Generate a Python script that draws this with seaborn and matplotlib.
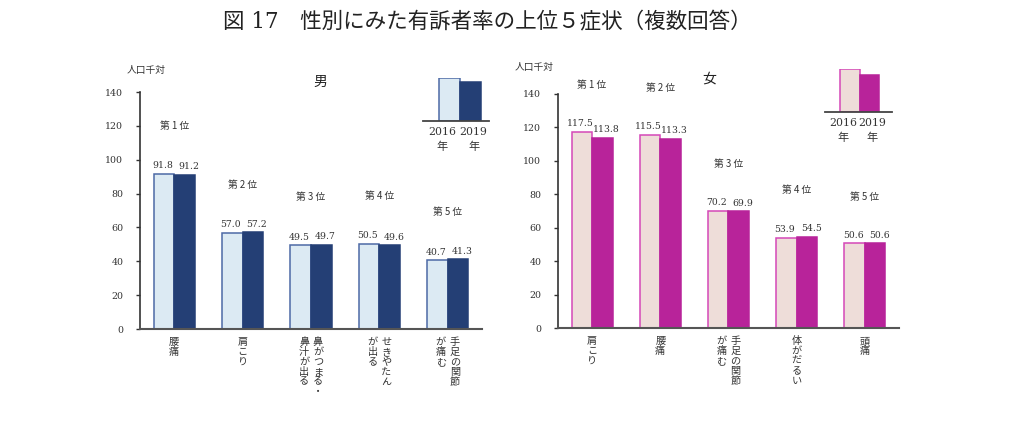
"""図17 性別にみた有訴者率の上位5症状 (2016年・2019年)."""
import matplotlib
matplotlib.use("Agg")
import matplotlib.pyplot as plt
import pandas as pd
import seaborn as sns

# ---- data ---------------------------------------------------------------
years = ["2016", "2019"]
ranks = ["第 1 位", "第 2 位", "第 3 位", "第 4 位", "第 5 位"]

male_symptoms = ["腰痛", "肩こり", "鼻がつまる・鼻汁が出る", "せきやたんが出る", "手足の関節が痛む"]
male_2016 = [91.8, 57.0, 49.5, 50.5, 40.7]
male_2019 = [91.2, 57.2, 49.7, 49.6, 41.3]
# vertical label columns, right column first
male_label_cols = [["腰痛"], ["肩こり"], ["鼻がつまる・", "鼻汁が出る"],
                   ["せきやたん", "が出る"], ["手足の関節", "が痛む"]]

female_symptoms = ["肩こり", "腰痛", "手足の関節が痛む", "体がだるい", "頭痛"]
female_2016 = [117.5, 115.5, 70.2, 53.9, 50.6]
female_2019 = [113.8, 113.3, 69.9, 54.5, 50.6]
female_label_cols = [["肩こり"], ["腰痛"], ["手足の関節", "が痛む"], ["体がだるい"], ["頭痛"]]

y_ticks = [0, 20, 40, 60, 80, 100, 120, 140]

MALE_COLORS = {"2016": "#dceaf3", "2019": "#243f75"}
MALE_EDGE = {"2016": "#4d6aa6", "2019": "#243f75"}
FEMALE_COLORS = {"2016": "#eeddd9", "2019": "#b8239a"}
FEMALE_EDGE = {"2016": "#d548b8", "2019": "#b8239a"}

sns.set_style("ticks")
plt.rcParams["font.family"] = ["DejaVu Serif", "Noto Sans CJK JP"]
JP = ["Noto Sans CJK JP", "DejaVu Sans"]
NUM = ["DejaVu Serif", "Noto Sans CJK JP"]
INK = "#333333"


def to_long(symptoms, v16, v19):
    rows = []
    for s, a, b in zip(symptoms, v16, v19):
        rows.append({"symptom": s, "year": "2016", "rate": a})
        rows.append({"symptom": s, "year": "2019", "rate": b})
    return pd.DataFrame(rows)


def draw_panel(ax, symptoms, v16, v19, label_cols, colors, edges, title, title_xy, unit_xy):
    df = to_long(symptoms, v16, v19)
    sns.barplot(data=df, x="symptom", y="rate", hue="year", hue_order=years,
                order=symptoms, palette=colors, width=0.6, saturation=1,
                legend=False, errorbar=None, ax=ax)
    # value labels, nudged apart a little like the original
    for yr, cont, dx in zip(years, ax.containers, (-1, 3)):
        for bar in cont:
            bar.set_edgecolor(edges[yr])
            bar.set_linewidth(1.1)
            ax.annotate(f"{bar.get_height():.1f}",
                        xy=(bar.get_x() + bar.get_width() / 2, bar.get_height()),
                        xytext=(dx, 2.5), textcoords="offset points",
                        ha="center", va="bottom", fontsize=6.7, family=NUM, color=INK)

    ax.set_ylim(0, 140)
    ax.set_xlim(-0.5, len(symptoms) - 0.5)
    ax.set_yticks(y_ticks)
    ax.set_yticklabels([str(t) for t in y_ticks], fontsize=6.8, family=NUM, color=INK)
    ax.tick_params(axis="y", length=3, width=1, pad=9, color=INK)
    ax.set_xticks([])
    ax.set_xlabel("")
    ax.set_ylabel("")
    sns.despine(ax=ax)
    ax.spines["left"].set_color(INK)
    ax.spines["left"].set_linewidth(1.2)
    ax.spines["bottom"].set_color("#555555")
    ax.spines["bottom"].set_linewidth(1.5)

    # rank labels above each group
    for i, (a, b) in enumerate(zip(v16, v19)):
        ax.text(i, max(a, b) + 28, ranks[i], ha="center", va="center",
                fontsize=7, family=JP, color=INK, clip_on=False)

    # vertical (tategaki) category labels, columns right to left
    for i, cols in enumerate(label_cols):
        n = len(cols)
        for k, col in enumerate(cols):
            dx = (n - 1) * 5 - k * 10
            ax.annotate("\n".join(col), xy=(i, 0), xycoords=("data", "axes fraction"),
                        xytext=(dx, -6), textcoords="offset points",
                        ha="center", va="top", fontsize=7.3, family=JP,
                        linespacing=0.98, color=INK)

    ax.text(*title_xy, title, transform=ax.transAxes, ha="center", va="center",
            fontsize=10, family=JP, color="#222222")
    ax.text(*unit_xy, "人口千対", transform=ax.transAxes, ha="left", va="center",
            fontsize=7, family=JP, color=INK)


def draw_key(ax, colors, edges, heights, bar_w_px, left_px, right_px):
    ax.bar([0, 1], heights, width=1.0,
           color=[colors[y] for y in years], edgecolor=[edges[y] for y in years],
           linewidth=1.1)
    ax.set_xlim(-0.5 - left_px / bar_w_px, 1.5 + right_px / bar_w_px)
    ax.set_ylim(0, 1)
    ax.set_xticks([])
    ax.set_yticks([])
    for side in ["top", "left", "right"]:
        ax.spines[side].set_visible(False)
    ax.spines["bottom"].set_color("#444444")
    ax.spines["bottom"].set_linewidth(1.3)
    ax.patch.set_alpha(0)
    trans = ax.get_xaxis_transform()
    for x, yr in zip((-0.35, 1.15), years):
        ax.text(x, -0.25, yr, transform=trans, ha="center",
                va="center", fontsize=7.8, family=NUM, color=INK)
        ax.text(x, -0.6, "年", transform=trans, ha="center",
                va="center", fontsize=8, family=JP, color=INK)


fig = plt.figure(figsize=(10.24, 4.24), dpi=100)
fig.patch.set_facecolor("white")

ax_m = fig.add_axes([0.1367, 0.224, 0.334, 0.559])
ax_f = fig.add_axes([0.5449, 0.2264, 0.333, 0.552])

draw_panel(ax_m, male_symptoms, male_2016, male_2019, male_label_cols,
           MALE_COLORS, MALE_EDGE, "男", (0.526, 1.042), (-0.04, 1.093))
draw_panel(ax_f, female_symptoms, female_2016, female_2019, female_label_cols,
           FEMALE_COLORS, FEMALE_EDGE, "女", (0.443, 1.068), (-0.128, 1.115))

key_m = fig.add_axes([0.413, 0.7146, 0.0645, 0.1014])
draw_key(key_m, MALE_COLORS, MALE_EDGE, [1.0, 0.9], 21, 16, 8)
key_f = fig.add_axes([0.8057, 0.7358, 0.0654, 0.1014])
draw_key(key_f, FEMALE_COLORS, FEMALE_EDGE, [1.0, 0.86], 19.5, 15, 13)

fig.text(0.476, 0.948, "図 17　性別にみた有訴者率の上位５症状（複数回答）",
         ha="center", va="center", fontsize=15.5, family=NUM, color="#222222")

fig.savefig("out.png", dpi=100, facecolor="white")
